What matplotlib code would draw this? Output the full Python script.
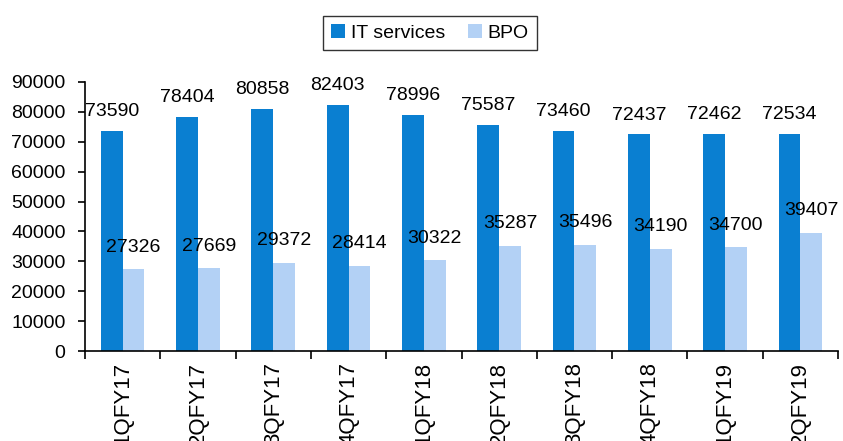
import matplotlib.pyplot as plt
import numpy as np
from matplotlib import rcParams

rcParams.update({
    'font.family': ['Liberation Sans', 'DejaVu Sans'],
    'font.size': 14,
})

# data
quarters = ['1QFY17', '2QFY17', '3QFY17', '4QFY17', '1QFY18',
            '2QFY18', '3QFY18', '4QFY18', '1QFY19', '2QFY19']
it_services = [73590, 78404, 80858, 82403, 78996, 75587, 73460, 72437, 72462, 72534]
bpo = [27326, 27669, 29372, 28414, 30322, 35287, 35496, 34190, 34700, 39407]

it_color = '#0A7FD1'
bpo_color = '#B3D1F5'

fig = plt.figure(figsize=(8.43, 4.41), dpi=100)
ax = fig.add_axes([85 / 843, 1 - 351 / 441, (838 - 85) / 843, (351 - 82) / 441])

x = np.arange(len(quarters))
w = 0.29
b1 = ax.bar(x - w / 2, it_services, width=w, color=it_color, label='IT services')
b2 = ax.bar(x + w / 2, bpo, width=w, color=bpo_color, label='BPO')

# value labels
for rect, v in zip(b1, it_services):
    ax.annotate(f'{v}', (rect.get_x() + rect.get_width() / 2, v),
                xytext=(0, 14), textcoords='offset points',
                ha='center', va='center', fontsize=14)
for rect, v in zip(b2, bpo):
    ax.annotate(f'{v}', (rect.get_x() + rect.get_width() / 2, v),
                xytext=(0, 16), textcoords='offset points',
                ha='center', va='center', fontsize=14)

ax.set_xlim(-0.5, len(quarters) - 0.5)
ax.set_ylim(0, 90000)
ax.set_yticks(np.arange(0, 90001, 10000))

# category boundary ticks, labels at centers
ax.set_xticks(np.arange(-0.5, len(quarters)), minor=False)
ax.set_xticklabels([])
ax.set_xticks(x, minor=True)
ax.set_xticklabels(quarters, minor=True, rotation=90, va='top', ha='center', fontsize=16)
ax.tick_params(axis='x', which='major', direction='out', length=6, width=1.2)
ax.tick_params(axis='x', which='minor', length=0, pad=8)
ax.tick_params(axis='y', direction='out', length=5, width=1.2, pad=9)

for s in ['top', 'right']:
    ax.spines[s].set_visible(False)
for s in ['left', 'bottom']:
    ax.spines[s].set_linewidth(1.2)

leg = fig.legend(handles=[b1, b2], loc='center', bbox_to_anchor=(430 / 843, 1 - 33 / 441),
                 ncol=2, frameon=True, fancybox=False, edgecolor='black',
                 handlelength=0.7, handleheight=0.7, handletextpad=0.3,
                 columnspacing=1.2, borderpad=0.4, fontsize=14)
leg.get_frame().set_linewidth(1.0)

fig.savefig('out.png', dpi=100)
